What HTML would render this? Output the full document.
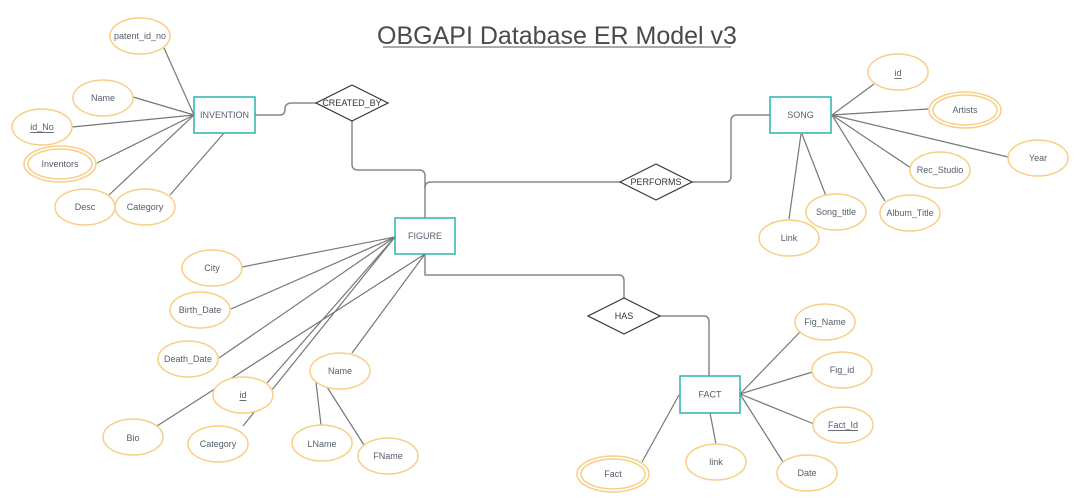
<!DOCTYPE html>
<html><head><style>
html,body{margin:0;padding:0;background:#fff;}
svg{display:block;}
text{font-family:"Liberation Sans",sans-serif;fill:#555e6a;font-size:9px;text-anchor:middle;dominant-baseline:central;}
.e{fill:#fff;stroke:#f7cf85;stroke-width:1.5;}
.r{fill:#fff;stroke:#2bb3ad;stroke-width:1.5;}
.d{fill:#fff;stroke:#333;stroke-width:1.2;}
.l{stroke:#777;stroke-width:1.2;fill:none;}
.c{stroke:#888;stroke-width:1.5;fill:none;}
.k{fill:#333;}
</style></head><body>
<svg width="1080" height="504" viewBox="0 0 1080 504" xmlns="http://www.w3.org/2000/svg">
<text x="557" y="36" style="font-size:25px;fill:#4a4a4a;">OBGAPI Database ER Model v3</text>
<line x1="383" y1="47" x2="731" y2="47" stroke="#777" stroke-width="1.2"/>

<!-- connectors -->
<path class="c" d="M255 115 H280 Q285 115 285 109 Q285 103 292 103 H316"/>
<path class="c" d="M352 121 V164 Q352 170 358 170 H419 Q425 170 425 176 V218"/>
<path class="c" d="M425 188 Q425 182 431 182 H620"/>
<path class="c" d="M692 182 H726 Q731 182 731 176 V121 Q731 115 737 115 H770"/>
<path class="c" d="M425 254 V275 H619 Q624 275 624 281 V298"/>
<path class="c" d="M660 316 H704 Q709 316 709 322 V376"/>

<!-- invention lines -->
<g class="l">
<line x1="164" y1="48" x2="194" y2="115"/>
<line x1="133" y1="97" x2="194" y2="115"/>
<line x1="72" y1="127" x2="194" y2="115"/>
<line x1="97" y1="163" x2="194" y2="115"/>
<line x1="109" y1="195" x2="194" y2="115"/>
<line x1="170" y1="195" x2="224" y2="133"/>
<!-- song -->
<line x1="832" y1="115" x2="874" y2="84"/>
<line x1="832" y1="115" x2="928" y2="109"/>
<line x1="832" y1="115" x2="1008" y2="157"/>
<line x1="832" y1="115" x2="911" y2="168"/>
<line x1="832" y1="115" x2="885" y2="201"/>
<line x1="801" y1="134" x2="789" y2="219"/>
<line x1="802" y1="134" x2="826" y2="196"/>
<!-- figure -->
<line x1="395" y1="237" x2="242" y2="267"/>
<line x1="395" y1="237" x2="231" y2="309"/>
<line x1="395" y1="237" x2="219" y2="358"/>
<line x1="395" y1="237" x2="267" y2="383"/>
<line x1="395" y1="237" x2="243" y2="426"/>
<line x1="425" y1="254" x2="157" y2="426"/>
<line x1="425" y1="254" x2="352" y2="353"/>
<line x1="316" y1="382" x2="321" y2="425"/>
<line x1="327" y1="387" x2="364" y2="445"/>
<!-- fact -->
<line x1="740" y1="394" x2="800" y2="332"/>
<line x1="740" y1="394" x2="819" y2="370"/>
<line x1="740" y1="394" x2="814" y2="424"/>
<line x1="740" y1="394" x2="783" y2="462"/>
<line x1="710" y1="413" x2="716" y2="444"/>
<line x1="679" y1="395" x2="642" y2="462"/>
</g>

<!-- entities -->
<rect class="r" x="194" y="97" width="61" height="36"/><text x="224.5" y="115">INVENTION</text>
<rect class="r" x="770" y="97" width="61" height="36"/><text x="800.5" y="115">SONG</text>
<rect class="r" x="395" y="218" width="60" height="36"/><text x="425" y="236">FIGURE</text>
<rect class="r" x="680" y="376" width="60" height="37"/><text x="710" y="394.5">FACT</text>

<!-- diamonds -->
<polygon class="d" points="316,103 352,85 388,103 352,121"/><text x="352" y="103" style="fill:#333">CREATED_BY</text>
<polygon class="d" points="620,182 656,164 692,182 656,200"/><text x="656" y="182" style="fill:#333">PERFORMS</text>
<polygon class="d" points="588,316 624,298 660,316 624,334"/><text x="624" y="316" style="fill:#333">HAS</text>

<!-- invention attrs -->
<ellipse class="e" cx="140" cy="36" rx="30" ry="18"/><text x="140" y="36">patent_id_no</text>
<ellipse class="e" cx="103" cy="98" rx="30" ry="18"/><text x="103" y="98">Name</text>
<ellipse class="e" cx="42" cy="127" rx="30" ry="18"/><text x="42" y="127" text-decoration="underline">id_No</text>
<ellipse class="e" cx="60" cy="164" rx="36" ry="18"/><ellipse class="e" cx="60" cy="164" rx="32" ry="15"/><text x="60" y="164">Inventors</text>
<ellipse class="e" cx="85" cy="207" rx="30" ry="18"/><text x="85" y="207">Desc</text>
<ellipse class="e" cx="145" cy="207" rx="30" ry="18"/><text x="145" y="207">Category</text>

<!-- song attrs -->
<ellipse class="e" cx="898" cy="72" rx="30" ry="18"/><text x="898" y="73" text-decoration="underline">id</text>
<ellipse class="e" cx="965" cy="110" rx="36" ry="18"/><ellipse class="e" cx="965" cy="110" rx="32" ry="15"/><text x="965" y="110">Artists</text>
<ellipse class="e" cx="1038" cy="158" rx="30" ry="18"/><text x="1038" y="158">Year</text>
<ellipse class="e" cx="940" cy="170" rx="30" ry="18"/><text x="940" y="170">Rec_Studio</text>
<ellipse class="e" cx="910" cy="213" rx="30" ry="18"/><text x="910" y="213">Album_Title</text>
<ellipse class="e" cx="836" cy="212" rx="30" ry="18"/><text x="836" y="212">Song_title</text>
<ellipse class="e" cx="789" cy="238" rx="30" ry="18"/><text x="789" y="238">Link</text>

<!-- figure attrs -->
<ellipse class="e" cx="212" cy="268" rx="30" ry="18"/><text x="212" y="268">City</text>
<ellipse class="e" cx="200" cy="310" rx="30" ry="18"/><text x="200" y="310">Birth_Date</text>
<ellipse class="e" cx="188" cy="359" rx="30" ry="18"/><text x="188" y="359">Death_Date</text>
<ellipse class="e" cx="243" cy="395" rx="30" ry="18"/><text x="243" y="395" text-decoration="underline">id</text>
<ellipse class="e" cx="133" cy="437" rx="30" ry="18"/><text x="133" y="438">Bio</text>
<ellipse class="e" cx="218" cy="444" rx="30" ry="18"/><text x="218" y="444">Category</text>
<ellipse class="e" cx="340" cy="371" rx="30" ry="18"/><text x="340" y="371">Name</text>
<ellipse class="e" cx="322" cy="443" rx="30" ry="18"/><text x="322" y="444">LName</text>
<ellipse class="e" cx="388" cy="456" rx="30" ry="18"/><text x="388" y="456">FName</text>

<!-- fact attrs -->
<ellipse class="e" cx="825" cy="322" rx="30" ry="18"/><text x="825" y="322">Fig_Name</text>
<ellipse class="e" cx="842" cy="370" rx="30" ry="18"/><text x="842" y="370">Fig_id</text>
<ellipse class="e" cx="843" cy="425" rx="30" ry="18"/><text x="843" y="425" text-decoration="underline">Fact_Id</text>
<ellipse class="e" cx="807" cy="473" rx="30" ry="18"/><text x="807" y="473">Date</text>
<ellipse class="e" cx="716" cy="462" rx="30" ry="18"/><text x="716" y="462">link</text>
<ellipse class="e" cx="613" cy="474" rx="36" ry="18"/><ellipse class="e" cx="613" cy="474" rx="32" ry="15"/><text x="613" y="474">Fact</text>
</svg>
</body></html>
